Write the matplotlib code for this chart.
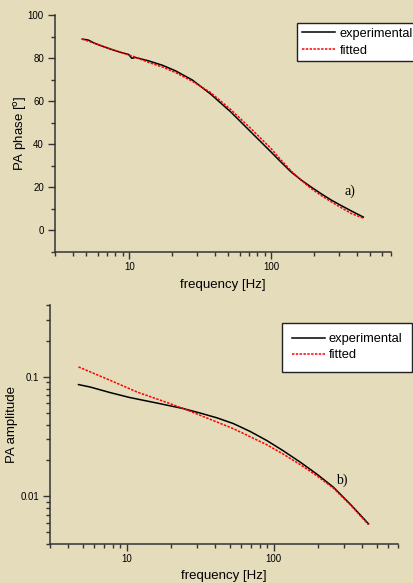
import numpy as np
import matplotlib
matplotlib.use("Agg")
import matplotlib.pyplot as plt
from matplotlib.ticker import MultipleLocator, LogLocator, NullFormatter, FixedLocator, FixedFormatter

plt.rcParams['font.family'] = ['Liberation Sans', 'DejaVu Sans']

bg = '#e5dcbc'

# (a) PA phase
f_phase_exp = [4.67, 5.14, 5.74, 7.13, 8.88, 9.89, 10.45, 11.03, 13.7, 17.1, 21.2, 27.9,
               37.5, 52, 72.1, 100, 118, 138.6, 163, 192, 227, 267, 315, 369, 447]
phase_exp = [88.8, 88.4, 86.8, 84.5, 82.5, 81.7, 79.9, 80.3, 78.7, 76.7, 74.1, 69.8,
             63.3, 55.0, 45.7, 36.4, 31.6, 27.1, 23.4, 20.1, 16.9, 14.0, 11.4, 9.0, 6.2]
f_phase_fit = [4.67, 5.74, 7.13, 8.88, 10.5, 13.7, 17.1, 21.2, 27.9, 37.5, 52, 72.1,
               100, 118, 138.6, 163, 192, 227, 267, 315, 369, 447]
phase_fit = [88.8, 86.8, 84.6, 82.4, 81.0, 78.0, 75.9, 73.3, 69.2, 64.0, 56.1, 47.3,
             38.0, 32.6, 27.6, 23.3, 19.4, 16.1, 13.2, 10.4, 7.8, 5.7]

# (b) PA amplitude
f_amp_exp = [4.69, 5.62, 7.69, 10.5, 16.0, 24.3, 31.5, 41, 53.1, 69, 89.5, 116, 151,
             196, 254, 335, 441]
amp_exp = [0.0863, 0.0824, 0.0740, 0.0672, 0.0605, 0.0543, 0.0499, 0.0455, 0.0407,
           0.0350, 0.0294, 0.0241, 0.0194, 0.01540, 0.01197, 0.0085, 0.0059]
f_amp_fit = [4.69, 7.69, 11.7, 19.7, 24.3, 31.5, 53.1, 89.5, 116, 151, 196, 254, 335, 441]
amp_fit = [0.1213, 0.0938, 0.0749, 0.0598, 0.0543, 0.0478, 0.0369, 0.0271, 0.0226,
           0.0185, 0.01490, 0.01175, 0.0084, 0.0058]

W, H = 414, 583
fig = plt.figure(figsize=(W / 100, H / 100), dpi=100, facecolor=bg)


def box(l, t, r, b):
    return [l / W, 1 - b / H, (r - l) / W, (b - t) / H]


def style(ax, xlab_y):
    ax.set_facecolor(bg)
    for s in ['top', 'right']:
        ax.spines[s].set_visible(False)
    for s in ['left', 'bottom']:
        ax.spines[s].set_color('#333333')
        ax.spines[s].set_linewidth(1.1)
    ax.set_xscale('log')
    ax.set_xlim(3, 700)
    ax.xaxis.set_major_locator(FixedLocator([10, 100]))
    ax.xaxis.set_major_formatter(FixedFormatter(['10', '100']))
    ax.xaxis.set_minor_locator(LogLocator(base=10, subs=np.arange(2, 10)))
    ax.xaxis.set_minor_formatter(NullFormatter())
    ax.tick_params(which='major', length=5, width=1, color='#333333', labelsize=7, pad=2.5)
    ax.tick_params(which='minor', length=3, width=1, color='#333333')
    ax.tick_params(axis='y', which='major', pad=3)
    ax.set_xlabel('frequency [Hz]', fontsize=9.5)
    ax.xaxis.set_label_coords(0.5, xlab_y)


def legend(ax, x, y, fs, hl, ls, bp, htp):
    leg = ax.legend(loc='upper left', bbox_to_anchor=(x / W, 1 - y / H),
                    bbox_transform=fig.transFigure, fontsize=fs, frameon=True,
                    fancybox=False, edgecolor='#222222', framealpha=1,
                    handlelength=hl, borderpad=bp, labelspacing=ls,
                    handletextpad=htp, borderaxespad=0)
    leg.get_frame().set_linewidth(1.0)


# top panel
ax1 = fig.add_axes(box(55, 15, 391, 252))
style(ax1, -0.113)
ax1.plot(f_phase_exp, phase_exp, color='black', lw=1.1, label='experimental')
ax1.plot(f_phase_fit, phase_fit, color='red', lw=1.1, dashes=(1.6, 0.9), label='fitted')
ax1.set_ylim(-10, 100)
ax1.yaxis.set_major_locator(MultipleLocator(20))
ax1.yaxis.set_minor_locator(MultipleLocator(10))
ax1.set_ylabel('PA phase [$^{\\rm o}$]', fontsize=9.5)
ax1.yaxis.set_label_coords(-0.077, 0.5)
ax1.text(357, 18.3, 'a)', family='Liberation Serif', fontsize=10, ha='center', va='center')
legend(ax1, 297, 23, 9.2, 2.6, 0.4, 0.36, 0.4)

# bottom panel
ax2 = fig.add_axes(box(50, 305, 398, 544))
style(ax2, -0.108)
ax2.plot(f_amp_exp, amp_exp, color='black', lw=1.1, label='experimental')
ax2.plot(f_amp_fit, amp_fit, color='red', lw=1.1, dashes=(1.6, 0.9), label='fitted')
ax2.set_yscale('log')
ax2.set_ylim(0.004, 0.4)
ax2.yaxis.set_major_locator(FixedLocator([0.01, 0.1]))
ax2.yaxis.set_major_formatter(FixedFormatter(['0.01', '0.1']))
ax2.yaxis.set_minor_locator(LogLocator(base=10, subs=np.arange(2, 10)))
ax2.yaxis.set_minor_formatter(NullFormatter())
ax2.set_ylabel('PA amplitude', fontsize=9.5)
ax2.yaxis.set_label_coords(-0.092, 0.5)
ax2.text(290, 0.0136, 'b)', family='Liberation Serif', fontsize=10, ha='center', va='center')
legend(ax2, 282, 323, 9.3, 2.5, 0.3, 0.8, 0.3)

fig.savefig('out.png', dpi=100, facecolor=bg)
